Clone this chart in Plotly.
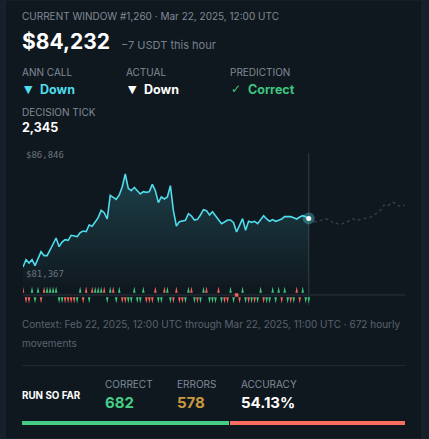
import plotly.graph_objects as go

W, H = 429, 439
BG = "#10181f"
OUTER = "#15202a"

prices = [81367,81801,81605,81801,81448,81860,82272,82037,82037,82370,82724,83077,82567,82841,82979,82940,
          83234,83175,83156,83391,83489,83450,83843,83764,84059,84274,84706,84569,84196,85590,85472,85354,
          85609,86100,86846,86002,85864,86061,85864,85668,85806,85766,85806,86237,85864,85158,85492,85374,
          85492,86159,84687,83784,84039,84078,84117,84510,84373,84137,84176,84432,84746,84687,84432,84628,
          84392,84157,83921,84019,84137,84137,83980,83430,83882,84216,83529,84059,84000,84059,83921,84157,
          84392,84196,84059,84157,84059,84117,84196,84333,84333,84333,84274,84196,84314,84392,84333,84232]
forecast = [84117,84019,84059,84137,84176,84196,84157,83960,83960,83882,83901,84000,84039,84196,84196,84117,
            84157,84235,84255,84314,84333,84471,84569,84746,85020,84942,85079,85197,85079,84962,84981,85020]
up_green = [3,5,8,9,10,11,19,24,25,26,29,32,37,40,48,55,60,69,73,79,83,85,87,93]
up_red = [0,7,21,23,27,30,44,47,51,56,61,65,91]
down_green = [4,12,13,18,22,28,31,35,36,38,39,45,46,49,54,57,59,62,63,64,66,70,74,76,78,81,82,84,88,90,94,95]
down_red = [1,2,6,14,15,16,17,20,33,34,41,42,43,50,52,53,58,67,68,72,75,77,80,86,89,92]
flat_index = [71]
run_labels = ["Correct", "Errors"]
run_values = [682, 578]

GREEN, RED = "#3ec47e", "#f0645a"
n = len(prices)
hours = list(range(n))
fut_hours = list(range(n - 1, n + len(forecast)))

def px(v): return v / W
def py(v): return 1 - v / H

fig = go.Figure()

# area + price line
y_lo, y_hi = 80014, 88083
fig.add_trace(go.Scatter(x=hours, y=[y_lo] * n, mode="lines", line=dict(width=0), hoverinfo="skip", showlegend=False))
fig.add_trace(go.Scatter(x=hours, y=prices, mode="lines", line=dict(color="#4fdcec", width=1.6),
                         fill="tonexty", showlegend=False,
                         fillgradient=dict(type="vertical", start=max(prices), stop=y_lo,
                                           colorscale=[[0, "rgba(79,220,236,0.2)"], [1, "rgba(79,220,236,0)"]])))
fig.add_trace(go.Scatter(x=fut_hours, y=[prices[-1]] + forecast, mode="lines",
                         line=dict(color="#3d4854", width=1.1, dash="3px,3px"), showlegend=False))
fig.add_trace(go.Scatter(x=[hours[-1]], y=[prices[-1]], mode="markers",
                         marker=dict(size=12, color="rgba(79,220,236,0.35)"), showlegend=False))
fig.add_trace(go.Scatter(x=[hours[-1]], y=[prices[-1]], mode="markers",
                         marker=dict(size=5, color="#ffffff"), showlegend=False))

# movement ticks on their own strip axis
def spikes(idx, base, tip):
    xs, ys = [], []
    for i in sorted(idx):
        xs += [i - 0.42, i, i + 0.42, None]
        ys += [base, tip, base, None]
    return xs, ys

for idx, base, tip, col in [(up_green, 2.2, 8.4, GREEN), (up_red, 2.2, 8.4, RED),
                            (down_green, -2.2, -8.4, GREEN), (down_red, -2.2, -8.4, RED)]:
    xs, ys = spikes(idx, base, tip)
    fig.add_trace(go.Scatter(x=xs, y=ys, yaxis="y2", mode="lines", line=dict(width=0), fill="toself",
                             fillcolor=col, hoverinfo="skip", showlegend=False))
fig.add_trace(go.Scatter(x=flat_index, y=[0], yaxis="y2", mode="markers",
                         marker=dict(symbol="square", size=3.5, color=RED), showlegend=False))

# run-so-far bar
for lab, val, col in zip(run_labels, run_values, ["#45cd85", "#fb6d60"]):
    fig.add_trace(go.Bar(x=[val], y=["run"], name=lab, orientation="h", xaxis="x3", yaxis="y3",
                         marker=dict(color=col, line=dict(color=BG, width=1)), showlegend=False))

def T(x, y, s, size=10, color="#8b95a1", family="Inter", weight=400):
    fig.add_annotation(x=px(x), y=py(y), xref="paper", yref="paper", text=s, showarrow=False,
                       xanchor="left", yanchor="middle", align="left",
                       xshift=-2, font=dict(size=size, color=color, family=family, weight=weight))

MUT = "#808a96"
T(22, 16, "CURRENT WINDOW #1,260 · Mar 22, 2025, 12:00 UTC", 10, MUT)
T(22, 41, "$84,232", 21, "#ffffff", weight=700)
T(121, 45, "−7 USDT this hour", 11, "#76808b")
T(22, 72, "ANN CALL", 10, MUT)
T(126, 72, "ACTUAL", 10, MUT)
T(230, 72, "PREDICTION", 10, MUT)
T(24, 89, "▼", 11, "#4fdcec", "DejaVu Sans")
T(40, 89, "Down", 12.5, "#4fdcec", weight=700)
T(128, 89, "▼", 11, "#ffffff", "DejaVu Sans")
T(144, 89, "Down", 12.5, "#ffffff", weight=700)
T(231, 89, "✓", 12, GREEN, "DejaVu Sans")
T(248, 89, "Correct", 12.5, GREEN, weight=700)
T(22, 112, "DECISION TICK", 10, MUT)
T(22, 128, "2,345", 12.5, "#ffffff", weight=700)
T(26, 155, "$86,846", 9, "#69737e", "DejaVu Sans Mono")
T(26, 274, "$81,367", 9, "#69737e", "DejaVu Sans Mono")
T(22, 324, "Context: Feb 22, 2025, 12:00 UTC through Mar 22, 2025, 11:00 UTC · 672 hourly", 10, "#59636e")
T(22, 343, "movements", 10, "#59636e")
T(22, 395, "RUN SO FAR", 9.8, "#ffffff", weight=700)
T(105, 384, "CORRECT", 10, MUT)
T(177, 384, "ERRORS", 10, MUT)
T(241, 384, "ACCURACY", 10, MUT)
T(105, 402, "682", 15, "#45cd85", weight=700)
T(177, 402, "578", 15, "#c9983f", weight=700)
T(241, 402, "54.13%", 15, "#ffffff", weight=700)

x0, x1 = 23 / W, 405 / W
fig.update_layout(
    width=W, height=H, margin=dict(l=0, r=0, t=0, b=0), autosize=False,
    paper_bgcolor=OUTER, plot_bgcolor="rgba(0,0,0,0)", barmode="stack", hovermode=False,
    xaxis=dict(domain=[x0, x1], range=[0, n + len(forecast) - 1], visible=False, fixedrange=True),
    yaxis=dict(domain=[1 - 290 / H, 1 - 153 / H], range=[y_lo, y_hi], visible=False, fixedrange=True),
    yaxis2=dict(domain=[1 - 304 / H, 1 - 286 / H], range=[-9, 9], anchor="x", visible=False, fixedrange=True),
    xaxis3=dict(domain=[22 / W, 406 / W], range=[0, sum(run_values)], visible=False, anchor="y3", fixedrange=True),
    yaxis3=dict(domain=[1 - 426 / H, 1 - 421 / H], visible=False, anchor="x3", fixedrange=True),
    bargap=0, barcornerradius=2,
    shapes=[
        dict(type="rect", xref="paper", yref="paper", x0=5 / W, x1=422 / W, y0=0, y1=1,
             fillcolor=BG, line=dict(color="#1c2731", width=1), layer="below"),
        dict(type="rect", xref="x", yref="y2", x0=0, x1=n + len(forecast) - 1, y0=-1, y1=1,
             fillcolor="#1c242d", line_width=0, layer="below"),
        dict(type="line", xref="x", yref="paper", x0=hours[-1], x1=hours[-1], y0=1 - 305 / H, y1=1 - 153 / H,
             line=dict(color="#353c44", width=1), layer="below"),
        dict(type="line", xref="paper", yref="paper", x0=22 / W, x1=406 / W, y0=1 - 365.5 / H, y1=1 - 365.5 / H,
             line=dict(color="#1f2933", width=1)),
    ],
)
fig.write_html("out.html", config={"displayModeBar": False},
               post_script="document.body.style.margin='0';document.body.style.background='#15202a';document.documentElement.style.overflow='hidden';")
